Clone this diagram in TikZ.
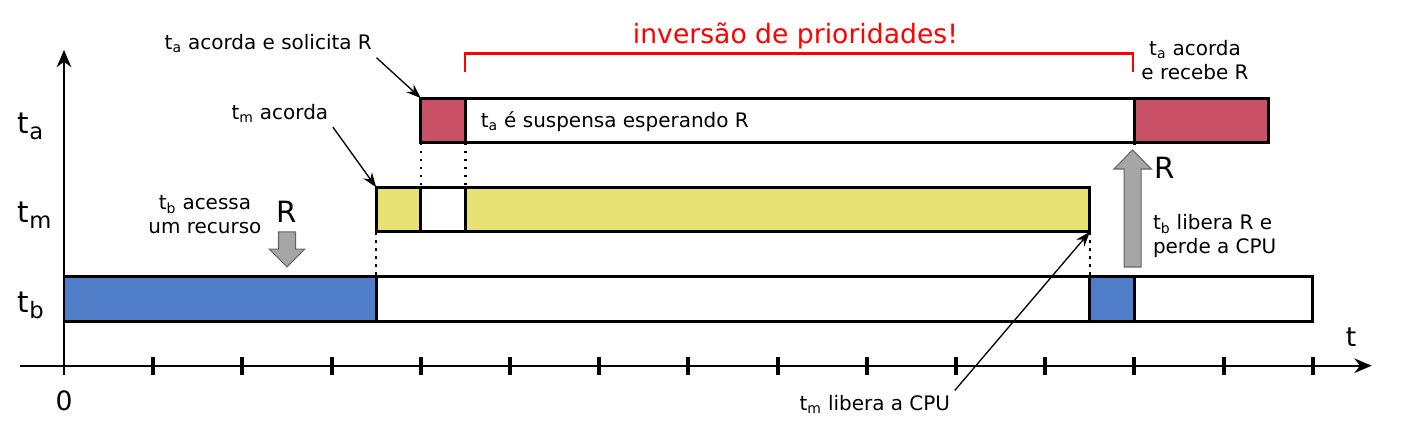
\documentclass[tikz,border=0pt]{standalone}
\usepackage{fontspec}
\setmainfont{DejaVu Sans}
\usepackage{xcolor}
\usetikzlibrary{arrows.meta}
\definecolor{corA}{RGB}{201,81,103}
\definecolor{corM}{RGB}{232,225,116}
\definecolor{corB}{RGB}{80,125,200}
\newcommand{\ind}[1]{\raisebox{-0.2em}{\fontsize{17}{17}\selectfont #1}}

\begin{document}
\begin{tikzpicture}[x=2.355cm,y=2.355cm,
  barra/.style={draw=black,line width=2.2pt},
  seta/.style={-{Stealth[length=11pt,width=8pt]},line width=1pt},
  eixo/.style={-{Stealth[length=13pt,width=11pt]},line width=1.5pt},
  pontos/.style={line width=1.8pt,dash pattern=on 2pt off 4pt},
  bloco/.style={fill=black!35,draw=black!60,line width=0.8pt},
  rotulo/.style={font=\fontsize{15}{18}\selectfont},
  medio/.style={font=\fontsize{20}{24}\selectfont},
  grande/.style={font=\fontsize{22}{26}\selectfont}]
\useasboundingbox (-0.7175,-0.631) rectangle (14.989,4.100);
% eixos
\draw[eixo] (0,-0.1) -- (0,3.54);
\draw[eixo] (-0.49,0) -- (14.66,0);
\foreach \i in {1,...,14}
  \draw[line width=3pt] (\i,-0.1) -- (\i,0.1);
\node[medio,anchor=base] (zero) at (0,-0.5) {0};
\node[medio,anchor=base] (eixot) at (14.43,0.21) {t};
\node[grande,anchor=base west,inner sep=0pt] (la) at (-0.52,2.60) {t\ind{a}};
\node[grande,anchor=base west,inner sep=0pt] (lm) at (-0.52,1.60) {t\ind{m}};
\node[grande,anchor=base west,inner sep=0pt] (lb) at (-0.52,0.60) {t\ind{b}};
% tarefa b
\draw[barra,fill=corB] (0,0.5) rectangle (3.5,1);
\draw[barra,fill=white] (3.5,0.5) rectangle (11.5,1);
\draw[barra,fill=corB] (11.5,0.5) rectangle (12,1);
\draw[barra,fill=white] (12,0.5) rectangle (14,1);
% tarefa m
\draw[barra,fill=corM] (3.5,1.5) rectangle (4,2);
\draw[barra,fill=white] (4,1.5) rectangle (4.5,2);
\draw[barra,fill=corM] (4.5,1.5) rectangle (11.5,2);
% tarefa a
\draw[barra,fill=corA] (4,2.5) rectangle (4.5,3);
\draw[barra,fill=white] (4.5,2.5) rectangle (12,3);
\draw[barra,fill=corA] (12,2.5) rectangle (13.5,3);
\node[rotulo,anchor=base west,inner sep=0pt] (susp) at (4.67,2.67) {t\textsubscript{a} é suspensa esperando R};
% linhas pontilhadas
\draw[pontos] (4,2.5) -- (4,2);
\draw[pontos] (4.5,2.5) -- (4.5,2);
\draw[pontos] (3.5,1.5) -- (3.5,1);
\draw[pontos] (11.5,1.5) -- (11.5,1);
\draw[pontos] (12,2.5) -- (12,2.42);
\coordinate (ta0) at (4,3);
\coordinate (tm0) at (3.5,2);
\coordinate (tm1) at (11.5,1.5);
% recurso R
\draw[bloco] (2.5,1.107) -- ++(0.2,0.2) -- ++(-0.105,0) -- ++(0,0.193)
  -- ++(-0.19,0) -- ++(0,-0.193) -- ++(-0.105,0) -- cycle;
\node[grande,anchor=base] (rdesce) at (2.5,1.60) {R};
\draw[bloco] (11.98,2.418) -- ++(0.21,-0.213) -- ++(-0.115,0) -- ++(0,-1.098)
  -- ++(-0.19,0) -- ++(0,1.098) -- ++(-0.115,0) -- cycle;
\node[grande,anchor=base] (rsobe) at (12.34,2.10) {R};
% textos e setas
\node[rotulo,anchor=base] (acordaA) at (2.29,3.54) {t\textsubscript{a} acorda e solicita R};
\draw[seta] (acordaA.south east) -- (ta0);
\node[rotulo,anchor=base] (acordaM) at (2.42,2.76) {t\textsubscript{m} acorda};
\draw[seta] (acordaM.south east) -- (tm0);
\node[rotulo,align=center] (acessa) at (1.58,1.69) {t\textsubscript{b} acessa\\um recurso};
\node[rotulo,align=left] (libera) at (12.90,1.45) {t\textsubscript{b} libera R e\\perde a CPU};
\node[rotulo,align=center] (recebe) at (12.68,3.43) {t\textsubscript{a} acorda\\e recebe R};
\node[rotulo,anchor=base] (liberaM) at (9.09,-0.50) {t\textsubscript{m} libera a CPU};
\draw[seta] (liberaM.north east) -- (tm1);
% inversao
\draw[draw=red,line width=1.6pt] (4.5,3.29) -- (4.5,3.5) -- (11.98,3.5) -- (11.98,3.29);
\node[medio,red,anchor=base] (inv) at (8.20,3.607) {inversão de prioridades!};
\end{tikzpicture}
\end{document}
